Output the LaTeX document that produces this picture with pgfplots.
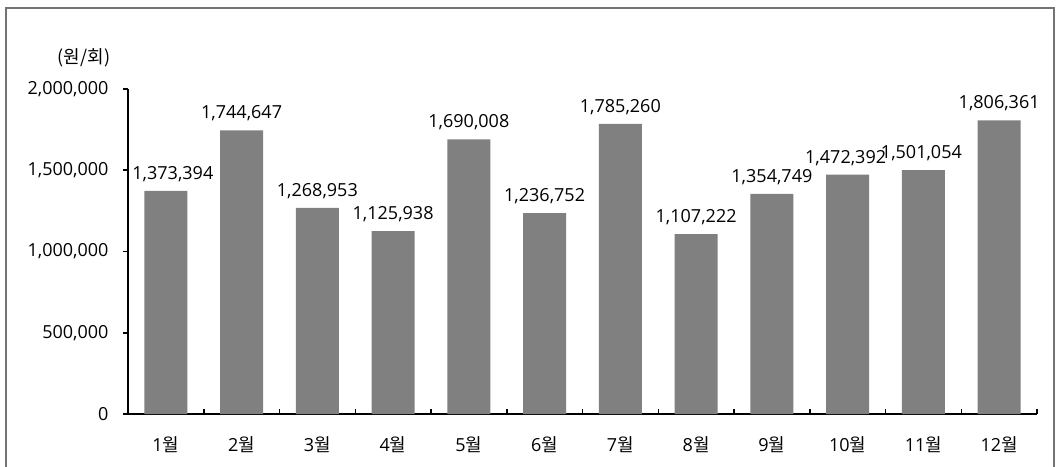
\documentclass[border=0pt]{standalone}
\usepackage{pgfplots}
\pgfplotsset{compat=1.18}
\usepackage{fontspec}
\setmainfont{Open Sans}
\newfontfamily\kr{Noto Sans CJK KR}
\definecolor{barc}{HTML}{808080}
\begin{document}
\begin{tikzpicture}
\useasboundingbox (0,0) rectangle (1056pt,466pt);
\draw[black!55, line width=1.5pt] (6pt,-5pt) -- (6pt,458pt) -- (1054pt,458pt) -- (1054pt,-5pt);
\begin{axis}[
  at={(128pt,52pt)}, anchor=south west,
  scale only axis, width=909pt, height=325pt,
  font=\fontsize{18pt}{20pt}\selectfont,
  xmin=0.5, xmax=12.5, ymin=0, ymax=2000000,
  axis x line*=bottom, axis y line*=left,
  axis line style={line width=1.5pt},
  ytick={0,500000,1000000,1500000,2000000},
  /pgf/number format/.cd, fixed, 1000 sep={,}, assume math mode=true, /pgfplots/.cd,
  scaled y ticks=false,
  y tick style={line width=1.5pt, black},
  ytick align=outside, major tick length=5pt,
  xtick={1,...,12},
  xticklabels={1{\kr 월},2{\kr 월},3{\kr 월},4{\kr 월},5{\kr 월},6{\kr 월},7{\kr 월},8{\kr 월},9{\kr 월},10{\kr 월},11{\kr 월},12{\kr 월}},
  x tick style={draw=none},
  minor xtick={1.5,2.5,...,12.5},
  minor tick length=5pt,
  minor x tick style={line width=1.5pt, black, draw=black},
  xtick align=inside,
  xticklabel style={yshift=-19pt},
  yticklabel style={xshift=-11pt},
  clip=false,
  point meta=explicit symbolic,
  visualization depends on={\thisrow{dx} \as \dx},
  nodes near coords,
  nodes near coords style={anchor=center, yshift=17pt, xshift=\dx pt, font=\fontsize{18pt}{20pt}\selectfont},
]
\addplot[ybar, bar width=43pt, fill=barc, draw=none] table[x=x, y=y, meta=lab] {
x y lab dx
1 1373394 1,373,394 7
2 1744647 1,744,647 0
3 1268953 1,268,953 0
4 1125938 1,125,938 0
5 1690008 1,690,008 0
6 1236752 1,236,752 0
7 1785260 1,785,260 0
8 1107222 1,107,222 0
9 1354749 1,354,749 0
10 1472392 1,472,392 -2
11 1501054 1,501,054 -2
12 1806361 1,806,361 0
};
\node at (rel axis cs:-0.0484,1.095) {\kr (원/회)};
\end{axis}
\end{tikzpicture}
\end{document}
